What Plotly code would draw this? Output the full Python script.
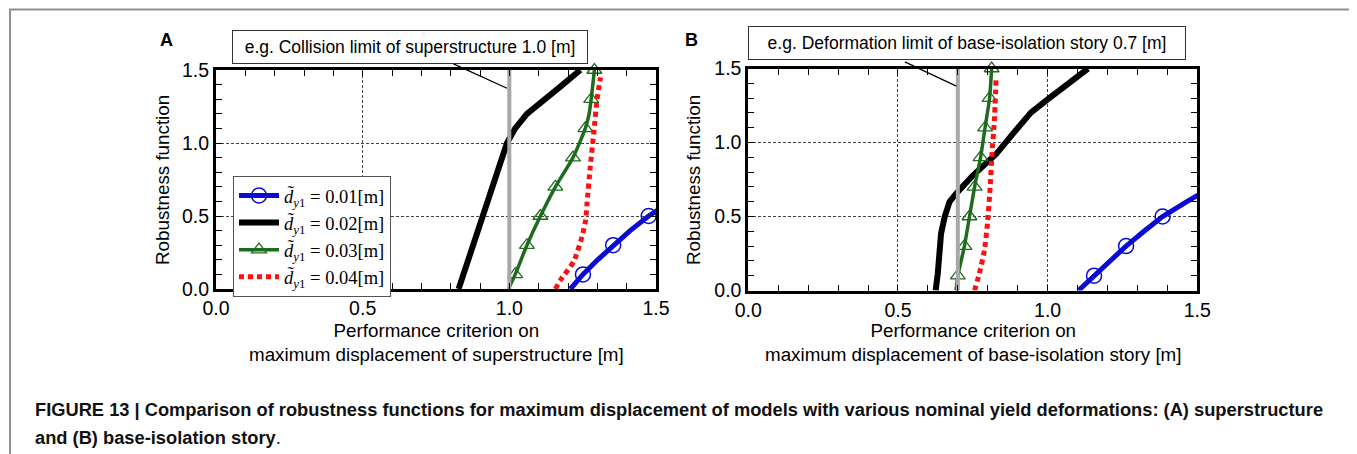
import plotly.graph_objects as go

W, H = 1357, 454
OFF = 8  # the page body margin shifts the figure by 8 px

# ---------------- data ----------------
# Panel A: superstructure
A_blue_y = [0.0, 0.1, 0.2, 0.3, 0.4, 0.5, 0.6]
A_blue_x = [1.208, 1.251, 1.301, 1.354, 1.412, 1.475, 1.55]
A_blue_my = [0.1, 0.3, 0.5]
A_blue_mx = [1.251, 1.354, 1.475]

A_black_y = [0.0, 0.3, 0.6, 1.0, 1.1, 1.2, 1.386, 1.5]
A_black_x = [0.827, 0.876, 0.924, 0.992, 1.02, 1.06, 1.174, 1.242]

A_green_y = [0.0, 0.1, 0.3, 0.5, 0.7, 0.9, 1.1, 1.2, 1.3, 1.5]
A_green_x = [0.997, 1.02, 1.06, 1.106, 1.157, 1.217, 1.259, 1.272, 1.279, 1.29]
A_green_my = [0.1, 0.3, 0.5, 0.7, 0.9, 1.1, 1.3, 1.5]
A_green_mx = [1.02, 1.06, 1.106, 1.157, 1.217, 1.259, 1.279, 1.29]

A_red_y = [0.0, 0.06, 0.19, 0.36, 0.47, 0.59, 0.84, 1.07, 1.3, 1.45]
A_red_x = [1.157, 1.174, 1.22, 1.248, 1.26, 1.265, 1.276, 1.288, 1.299, 1.311]

A_limit = 1.0

# Panel B: base-isolation story
B_blue_y = [0.0, 0.1, 0.2, 0.3, 0.4, 0.5, 0.6, 0.7]
B_blue_x = [1.103, 1.155, 1.207, 1.262, 1.322, 1.384, 1.465, 1.55]
B_blue_my = [0.1, 0.3, 0.5]
B_blue_mx = [1.155, 1.262, 1.384]

B_black_y = [0.0, 0.116, 0.385, 0.497, 0.598, 0.654, 0.777, 0.922, 1.057, 1.202, 1.292, 1.404, 1.5]
B_black_x = [0.626, 0.633, 0.644, 0.656, 0.672, 0.694, 0.75, 0.828, 0.883, 0.944, 1.0, 1.072, 1.135]

B_green_y = [0.0, 0.1, 0.3, 0.5, 0.7, 0.9, 1.1, 1.3, 1.5]
B_green_x = [0.694, 0.700, 0.722, 0.739, 0.756, 0.776, 0.791, 0.806, 0.813]
B_green_my = [0.1, 0.3, 0.5, 0.7, 0.9, 1.1, 1.3, 1.5]
B_green_mx = [0.700, 0.722, 0.739, 0.756, 0.776, 0.791, 0.806, 0.813]

B_red_y = [0.0, 0.116, 0.273, 0.475, 0.698, 0.922, 1.146, 1.437]
B_red_x = [0.756, 0.772, 0.789, 0.8, 0.808, 0.814, 0.822, 0.828]

B_limit = 0.7

limit_y = [0.0, 1.5]

legend_names = [
    "<i>d\u0303</i><sub><i>y</i>1</sub> = 0.01[m]",
    "<i>d\u0303</i><sub><i>y</i>1</sub> = 0.02[m]",
    "<i>d\u0303</i><sub><i>y</i>1</sub> = 0.03[m]",
    "<i>d\u0303</i><sub><i>y</i>1</sub> = 0.04[m]",
]

ticks_vals = [0.0, 0.5, 1.0, 1.5]
ticks_text = ["0.0", "0.5", "1.0", "1.5"]

# ---------------- styles ----------------
BLUE = "#0a0ad2"
BLACK = "#000000"
GREEN = "#1e6b1e"
RED = "#ff1010"
GRAY = "#a8a8a8"
SANS = "Liberation Sans, Arial, sans-serif"
SERIF = "Liberation Serif, Times New Roman, serif"

fig = go.Figure()


def add_panel(xa, ya, blue, black, green, red, limit):
    (bx, by, bmx, bmy), (kx, ky), (gx, gy, gmx, gmy), (rx, ry) = blue, black, green, red
    fig.add_trace(go.Scatter(x=bx, y=by, mode="lines", xaxis=xa, yaxis=ya, showlegend=False,
                             line=dict(color=BLUE, width=5), hoverinfo="skip"))
    fig.add_trace(go.Scatter(x=bmx, y=bmy, mode="markers", xaxis=xa, yaxis=ya, showlegend=False,
                             marker=dict(symbol="circle-open", size=15, color=BLUE, line=dict(width=1.5)),
                             cliponaxis=False, hoverinfo="skip"))
    fig.add_trace(go.Scatter(x=kx, y=ky, mode="lines", xaxis=xa, yaxis=ya, showlegend=False,
                             line=dict(color=BLACK, width=6), hoverinfo="skip"))
    fig.add_trace(go.Scatter(x=gx, y=gy, mode="lines", xaxis=xa, yaxis=ya, showlegend=False,
                             line=dict(color=GREEN, width=3.5, shape="spline", smoothing=0.6), hoverinfo="skip"))
    fig.add_trace(go.Scatter(x=gmx, y=gmy, mode="markers", xaxis=xa, yaxis=ya, showlegend=False,
                             marker=dict(symbol="triangle-up-open", size=13, color=GREEN, line=dict(width=1.3)),
                             cliponaxis=False, hoverinfo="skip"))
    fig.add_trace(go.Scatter(x=rx, y=ry, mode="lines", xaxis=xa, yaxis=ya, showlegend=False,
                             line=dict(color=RED, width=5, dash="5px,4px", shape="spline", smoothing=0.5),
                             hoverinfo="skip"))
    fig.add_trace(go.Scatter(x=[limit, limit], y=limit_y, mode="lines", xaxis=xa, yaxis=ya, showlegend=False,
                             line=dict(color=GRAY, width=4), hoverinfo="skip"))


add_panel("x", "y",
          (A_blue_x, A_blue_y, A_blue_mx, A_blue_my), (A_black_x, A_black_y),
          (A_green_x, A_green_y, A_green_mx, A_green_my), (A_red_x, A_red_y), A_limit)
add_panel("x2", "y2",
          (B_blue_x, B_blue_y, B_blue_mx, B_blue_my), (B_black_x, B_black_y),
          (B_green_x, B_green_y, B_green_mx, B_green_my), (B_red_x, B_red_y), B_limit)

# legend-only entries
fig.add_trace(go.Scatter(x=[None], y=[None], mode="lines+markers", name=legend_names[0],
                         line=dict(color=BLUE, width=5),
                         marker=dict(symbol="circle-open", size=15, color=BLUE, line=dict(width=1.5))))
fig.add_trace(go.Scatter(x=[None], y=[None], mode="lines", name=legend_names[1],
                         line=dict(color=BLACK, width=6)))
fig.add_trace(go.Scatter(x=[None], y=[None], mode="lines+markers", name=legend_names[2],
                         line=dict(color=GREEN, width=3.5),
                         marker=dict(symbol="triangle-up-open", size=13, color=GREEN, line=dict(width=1.3))))
fig.add_trace(go.Scatter(x=[None], y=[None], mode="lines", name=legend_names[3],
                         line=dict(color=RED, width=5, dash="5px,4px")))


def px_x(p):
    return (p - OFF) / W


def px_y(p):
    return 1 - (p - OFF) / H


axis_common = dict(
    range=[0, 1.5], tickmode="array", tickvals=ticks_vals, ticktext=ticks_text,
    showgrid=True, gridcolor="#444444", gridwidth=1, griddash="3px,2px",
    showline=True, linecolor="black", linewidth=3, mirror="ticks",
    ticks="inside", ticklen=6, tickwidth=1, tickcolor="black",
    minor=dict(dtick=0.1, tick0=0, ticks="inside", ticklen=6, tickwidth=1, tickcolor="black", showgrid=False),
    zeroline=False, fixedrange=True, automargin=False,
    tickfont=dict(family=SANS, size=19.5, color="black"),
)

fig.update_layout(
    width=W, height=H,
    margin=dict(l=0, r=0, t=0, b=0),
    paper_bgcolor="white", plot_bgcolor="white",
    xaxis=dict(axis_common, domain=[px_x(216), px_x(656)], anchor="y"),
    yaxis=dict(axis_common, domain=[px_y(289), px_y(70)], anchor="x"),
    xaxis2=dict(axis_common, domain=[px_x(748.3), px_x(1197.3)], anchor="y2"),
    yaxis2=dict(axis_common, domain=[px_y(290.5), px_y(68.5)], anchor="x2"),
    showlegend=True,
    legend=dict(x=px_x(233), y=px_y(176), xanchor="left", yanchor="top",
                bgcolor="white", bordercolor="#555555", borderwidth=1,
                font=dict(family=SERIF, size=18.5, color="black"), tracegroupgap=0,
                itemwidth=40),
)

ann = []


def paper_text(text, x, y, size, xanchor="center", yanchor="middle", **kw):
    d = dict(text=text, x=px_x(x), y=px_y(y), xref="paper", yref="paper", showarrow=False,
             xanchor=xanchor, yanchor=yanchor, font=dict(family=SANS, size=size, color=kw.pop("color", "black")))
    d.update(kw)
    return d


# panel labels
ann.append(paper_text("<b>A</b>", 166, 40, 18))
ann.append(paper_text("<b>B</b>", 691, 40, 18))
# leader lines
ann.append(dict(text="", x=0.992, y=1.375, xref="x", yref="y", showarrow=True, arrowhead=0,
                arrowwidth=1.3, arrowcolor="black", ax=-55, ay=-25, standoff=0, startstandoff=0))
ann.append(dict(text="", x=0.695, y=1.381, xref="x2", yref="y2", showarrow=True, arrowhead=0,
                arrowwidth=1.3, arrowcolor="black", ax=-53, ay=-25, standoff=0, startstandoff=0))
# limit boxes
ann.append(paper_text("e.g. Collision limit of superstructure 1.0 [m]", 409.5, 46.7, 17.5,
                      bgcolor="white", bordercolor="#333333", borderwidth=1, borderpad=0,
                      width=354, height=32))
ann.append(paper_text("e.g. Deformation limit of base-isolation story 0.7 [m]", 967, 43, 17.5,
                      bgcolor="white", bordercolor="#333333", borderwidth=1, borderpad=0,
                      width=436, height=32))
# axis titles
ann.append(paper_text("Performance criterion on<br>maximum displacement of superstructure [m]", 436, 342, 18.8))
ann.append(paper_text("Performance criterion on<br>maximum displacement of base-isolation story [m]", 973, 342, 18.8))
for cx in [162, 693]:
    ann.append(paper_text("Robustness function", cx, 180, 18.8, textangle=-90))
# caption
ann.append(paper_text("<b>FIGURE 13 | Comparison of robustness functions for maximum displacement of models "
                      "with various nominal yield deformations: (A) superstructure</b>",
                      33, 409, 18.3, xanchor="left", color="#111111"))
ann.append(paper_text("<b>and (B) base-isolation story</b>.", 33, 437, 18.3, xanchor="left", color="#111111"))
fig.update_layout(annotations=ann)

# outer gray frame of the figure panel
fig.add_shape(type="rect", xref="paper", yref="paper", x0=px_x(10), x1=px_x(1353.5),
              y0=px_y(9.5), y1=px_y(470), line=dict(color="#8f8f8f", width=2), layer="below")

fig.write_html("out.html")
